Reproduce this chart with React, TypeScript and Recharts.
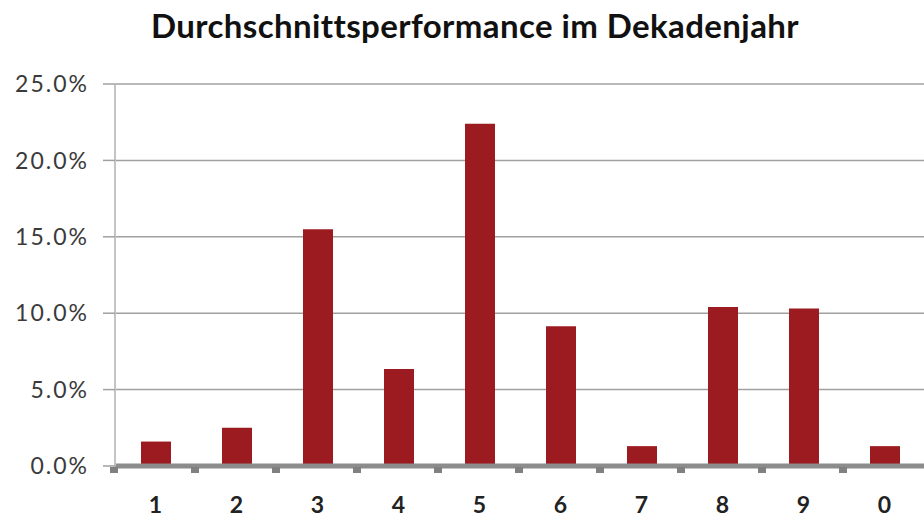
import React from 'react';
import { BarChart, Bar, XAxis, YAxis, CartesianGrid } from 'recharts';

const years = ['1', '2', '3', '4', '5', '6', '7', '8', '9', '0'];
const performance = [1.6, 2.5, 15.5, 6.35, 22.4, 9.15, 1.3, 10.4, 10.3, 1.3];
const yTicks = [0, 5, 10, 15, 20, 25];

const data = years.map((year, i) => ({ year, value: performance[i] }));

const FONT = 'Lato, "Open Sans", sans-serif';

const XTick = (props: any) => {
  const { x, payload, width, visibleTicksCount } = props;
  const band = width / (visibleTicksCount || years.length);
  const axisY = 466;
  return (
    <g>
      <rect x={x - band / 2 - 5} y={axisY + 1} width={8} height={6} fill="#808080" />
      <text x={x} y={513} textAnchor="middle" fontSize={23} fontWeight={700} fill="#222" fontFamily={FONT}>
        {payload.value}
      </text>
    </g>
  );
};

const App: React.FC = () => {
  return (
    <div style={{ position: 'absolute', left: 0, top: 0, width: 924, height: 520, overflow: 'hidden', background: '#fff' }}>
      <div
        style={{
          position: 'absolute',
          left: 0,
          top: 5,
          width: 950,
          textAlign: 'center',
          fontFamily: FONT,
          fontWeight: 700,
          fontSize: 33,
          letterSpacing: 0.4,
          color: '#111',
        }}
      >
        Durchschnittsperformance im Dekadenjahr
      </div>
      <BarChart
        width={930}
        height={520}
        data={data}
        barSize={30}
        margin={{ top: 84, right: 5, left: 0, bottom: 0 }}
      >
        <CartesianGrid horizontal vertical={false} stroke="#a0a0a0" strokeWidth={1.5} />
        <XAxis
          dataKey="year"
          height={54}
          axisLine={{ stroke: '#8c8c8c', strokeWidth: 5 }}
          tickLine={false}
          interval={0}
          tick={<XTick />}
        />
        <YAxis
          width={115}
          domain={[0, 25]}
          ticks={yTicks}
          interval={0}
          axisLine={{ stroke: '#c4c4c4', strokeWidth: 2 }}
          tickLine={{ stroke: '#a0a0a0', strokeWidth: 1.5 }}
          tickSize={12}
          tickMargin={14}
          tickFormatter={(v: number) => `${v.toFixed(1)}%`}
          tick={{ fontSize: 23, fill: '#3a3a3a', fontFamily: FONT, letterSpacing: 2 }}
        />
        <Bar dataKey="value" fill="#9b1b20" isAnimationActive={false} />
      </BarChart>
    </div>
  );
};

export default App;
